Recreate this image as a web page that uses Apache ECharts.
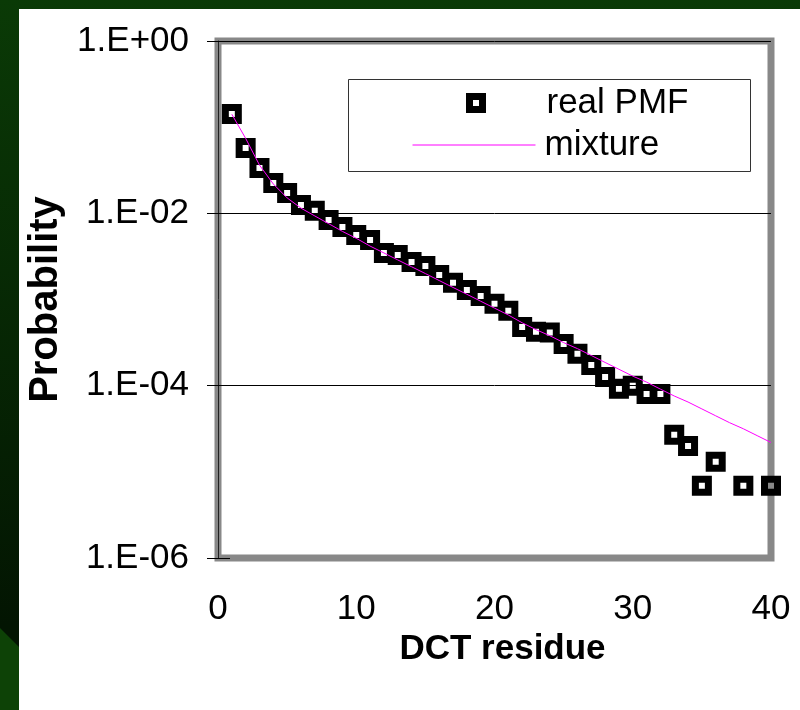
<!DOCTYPE html>
<html><head><meta charset="utf-8">
<script src="https://cdn.jsdelivr.net/npm/echarts@6/dist/echarts.min.js"></script>
<style>html,body{margin:0;padding:0;background:#fff}#c{width:800px;height:710px}</style>
</head><body><div id="c"></div>
<script>
// ---- data ----
const xPMF = [1,2,3,4,5,6,7,8,9,10,11,12,13,14,15,16,17,18,19,20,21,22,23,24,25,26,27,28,29,30,31,32,33,34,35,36,38,40];
const realPMF = [0.142,0.0574,0.0336,0.0225,0.0172,0.0125,0.0107,0.00838,0.00695,0.00562,
  0.00491,0.00347,0.00329,0.00273,0.00245,0.00193,0.00156,0.00129,0.0011,0.00089,
  0.000738,0.000481,0.000421,0.000415,0.000305,0.000234,0.000174,0.000126,0.0000918,0.0000995,
  0.0000803,0.0000803,0.0000269,0.00002,0.00000689,0.0000131,0.00000689,0.00000689];
const xMix = [1,2,3,4,5,6,7,8,9,10,11,12,13,14,15,16,17,18,19,20,21,22,23,24,25,26,27,28,29,30,31,32,33,34,35,36,37,38,39,40];
const mixture = [0.1413,0.0741,0.0363,0.0219,0.0151,0.0115,0.00933,0.00759,0.00617,0.00513,
  0.00417,0.00347,0.00288,0.0024,0.002,0.00166,0.00138,0.00115,0.000955,0.000794,
  0.000661,0.000537,0.000447,0.00038,0.000316,0.000269,0.000224,0.000186,0.000155,0.000129,
  0.00011,0.0000912,0.0000759,0.0000646,0.0000537,0.0000447,0.0000372,0.0000316,0.0000263,0.0000219];
const yTickExps = [-6,-4,-2,0];
const yTickLabels = ['1.E-06','1.E-04','1.E-02','1.E+00'];
const xTickLabels = ['0','10','20','30','40'];
const seriesNames = ['real PMF','mixture'];
const xTitle = 'DCT residue';
const yTitle = 'Probability';

const FONT = "'Liberation Sans', Arial, sans-serif";
const lg = v => Math.log10(v);

const chart = echarts.init(document.getElementById('c'), null, {renderer:'canvas'});
chart.setOption({
  animation: false,
  backgroundColor: 'transparent',
  graphic: [
    {type:'rect', z:-100, silent:true, shape:{x:0,y:0,width:800,height:710},
      style:{fill:new echarts.graphic.LinearGradient(0,0,0,1,[{offset:0,color:'#0a3a06'},{offset:0.88,color:'#031502'},{offset:1,color:'#031502'}])}},
    {type:'polygon', z:-99, silent:true, shape:{points:[[0,628],[19,647],[19,710],[0,710]]}, style:{fill:'#0d4206'}},
    {type:'rect', z:-98, silent:true, shape:{x:19,y:9,width:781,height:701}, style:{fill:'#ffffff'}},
    {type:'rect', z:1, silent:true, shape:{x:348.5,y:79.5,width:402,height:92}, style:{fill:'none', stroke:'#333', lineWidth:1}}
  ],
  grid: {left:218, top:41, right:29, bottom:152, show:true, borderColor:'#888', borderWidth:7,
         backgroundColor:'transparent', outerBoundsMode:'none', containLabel:false},
  legend: [
    {data:[{name:seriesNames[0], icon:'rect', itemStyle:{color:'transparent', borderColor:'#000', borderWidth:7}}],
     left:466, top:83, padding:0, itemWidth:13, itemHeight:13, selectedMode:false,
     textStyle:{fontSize:35, fontFamily:FONT, color:'#000', lineHeight:40, padding:[0,0,0,59]}},
    {data:[{name:seriesNames[1], itemStyle:{color:'transparent', borderColor:'transparent', borderWidth:0, opacity:0}}],
     left:412, top:125, padding:0, itemWidth:123, itemHeight:13, selectedMode:false,
     lineStyle:{color:'#ff00ff', width:1},
     textStyle:{fontSize:35, fontFamily:FONT, color:'#000', lineHeight:40, padding:[0,0,0,4]}}
  ],
  xAxis: {
    type:'value', min:0, max:40, interval:10,
    name:xTitle, nameLocation:'middle', nameGap:61,
    nameTextStyle:{fontSize:35, fontWeight:'bold', fontFamily:FONT, color:'#000', padding:[0,0,0,16]},
    axisLine:{show:false}, axisTick:{show:false}, splitLine:{show:false},
    axisLabel:{fontSize:35, fontFamily:FONT, color:'#000', margin:34, lineHeight:35,
      formatter: v => xTickLabels[Math.round(v/10)] }
  },
  yAxis: [
    {type:'value', min:-6, max:0, interval:2, position:'left', offset:0,
     name:yTitle, nameLocation:'middle', nameGap:141, nameRotate:90,
     nameTextStyle:{fontSize:40, fontWeight:'bold', fontFamily:FONT, color:'#000'},
     axisLine:{show:true, lineStyle:{color:'#222', width:1}},
     axisTick:{show:true, inside:false, length:11, lineStyle:{color:'#000', width:1}},
     splitLine:{show:true, showMinLine:false, showMaxLine:true, lineStyle:{color:'#000', width:1}},
     axisLabel:{fontSize:35, fontFamily:FONT, color:'#000', margin:29,
       formatter: v => { const i = yTickExps.indexOf(Math.round(v)); return i>=0 ? yTickLabels[i] : ''; } }
    },
    {type:'value', min:-6, max:0, interval:2, position:'left', offset:0,
     axisLine:{show:false}, splitLine:{show:false}, axisLabel:{show:false},
     axisTick:{show:true, inside:true, length:12, lineStyle:{color:'#000', width:1}}}
  ],
  series: [
    {name:seriesNames[0], type:'scatter', symbol:'rect', symbolSize:13, z:3,
     itemStyle:{color:'transparent', borderColor:'#000', borderWidth:7, opacity:1},
     data: xPMF.map((x,i)=>[x, lg(realPMF[i])])},
    {name:seriesNames[1], type:'line', symbol:'none', showSymbol:false, z:4,
     lineStyle:{color:'#ff00ff', width:1}, itemStyle:{color:'#ff00ff'},
     data: xMix.map((x,i)=>[x, lg(mixture[i])])}
  ]
});
</script></body></html>
